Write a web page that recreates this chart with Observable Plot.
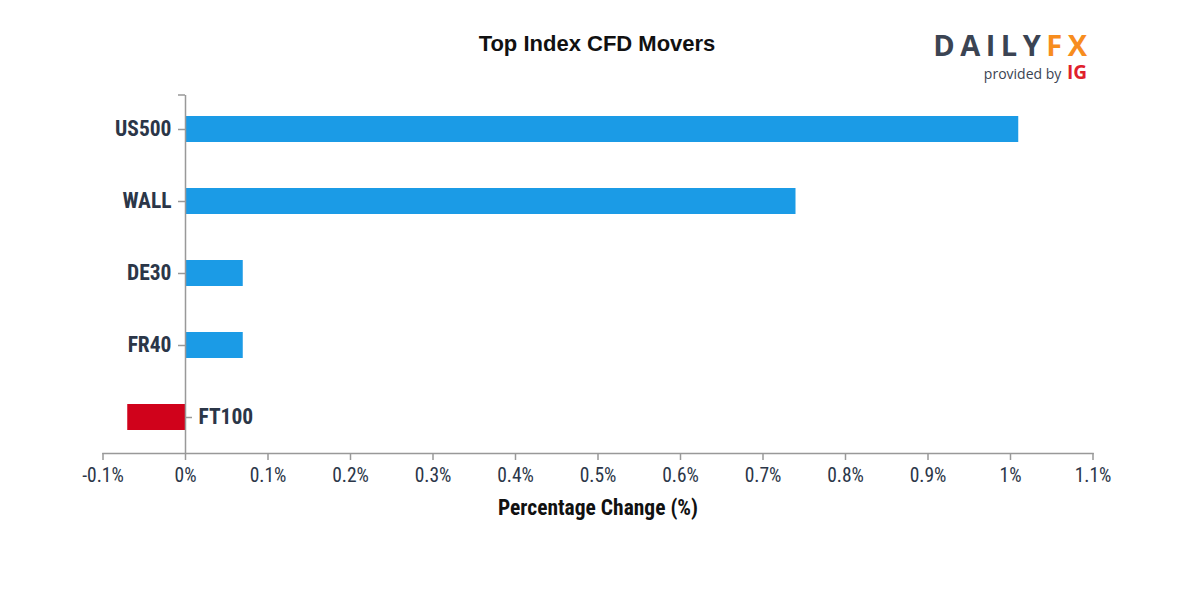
<!DOCTYPE html>
<html>
<head>
<meta charset="utf-8">
<script src="https://cdn.jsdelivr.net/npm/d3@7"></script>
<script src="https://cdn.jsdelivr.net/npm/@observablehq/plot@0.6"></script>
<style>
  html, body { margin: 0; padding: 0; background: #fff; }
  #wrap { position: relative; width: 1200px; height: 600px; overflow: hidden; }
  #wrap svg { position: absolute; left: 0; top: 0; }
  .title { position: absolute; left: 0; width: 1194px; top: 31px; text-align: center;
    font-family: "Liberation Sans", Arial, sans-serif; font-weight: bold; font-size: 22px; line-height: 26px; color: #111; }
  .logo { position: absolute; right: 113px; top: 31px; text-align: right; font-family: "Open Sans", "Noto Sans", sans-serif; }
  .logo .brand { font-size: 29px; font-weight: 700; letter-spacing: 5.5px; line-height: 28px; height: 28px; color: #3b4453; margin-right: -5.5px; }
  .logo .brand span { color: #f78d1e; }
  .logo .by { font-size: 14px; color: #3b4453; line-height: 18px; margin-top: 6px; }
  .logo .by b { color: #e0202c; font-size: 19px; line-height: 14px; font-weight: 700; margin-left: 2px; display: inline-block; vertical-align: baseline; }
</style>
</head>
<body>
<div id="wrap">
  <div class="title">Top Index CFD Movers</div>
  <div class="logo">
    <div class="brand">DAILY<span>FX</span></div>
    <div class="by">provided by <b>IG</b></div>
  </div>
</div>
<script>
const names = ["US500", "WALL", "DE30", "FR40", "FT100"];
const changes = [1.01, 0.74, 0.07, 0.07, -0.07];
const xTicks = [-0.1, 0, 0.1, 0.2, 0.3, 0.4, 0.5, 0.6, 0.7, 0.8, 0.9, 1.0, 1.1];
const xLabel = "Percentage Change (%)";

const data = names.map((name, i) => ({name, value: changes[i]}));
const pos = data.filter(d => d.value >= 0);
const neg = data.filter(d => d.value < 0);

const labelFont = '"Roboto Condensed", "Liberation Sans Narrow", "DejaVu Sans Condensed", Roboto, sans-serif';
const axisColor = "#999";
const textColor = "#2b3648";

// small outer tick at the top end of the zero (y) axis
function topCap(index, scales, values, dims) {
  const g = d3.create("svg:line")
    .attr("x1", scales.x(0) - 7).attr("x2", scales.x(0))
    .attr("y1", dims.marginTop + 2).attr("y2", dims.marginTop + 2)
    .attr("stroke", axisColor).attr("stroke-width", 1.5);
  return g.node();
}

const chart = Plot.plot({
  width: 1200,
  height: 600,
  marginLeft: 102.5,
  marginRight: 107.5,
  marginTop: 93,
  marginBottom: 147,
  style: {fontFamily: labelFont, background: "transparent"},
  x: {domain: [-0.1, 1.1]},
  y: {domain: names, paddingInner: 0.64, paddingOuter: 0.32, axis: null},
  marks: [
    Plot.barX(data, {y: "name", x: "value", fill: d => d.value >= 0 ? "#1b9be6" : "#d0021b"}),
    Plot.frame({anchor: "bottom", stroke: axisColor, strokeWidth: 1.5}),
    Plot.ruleX([0], {stroke: axisColor, strokeWidth: 1.5, insetTop: 2}),
    topCap,
    Plot.axisX({
      ticks: xTicks,
      tickFormat: d => (Math.round(d * 10) / 10) + "%",
      tickSize: 7,
      tickPadding: 8,
      stroke: axisColor,
      strokeWidth: 1.5,
      fill: textColor,
      fontSize: 19.5,
      label: null
    }),
    Plot.ruleY(pos, {y: "name", x1: 0, x2: 0, insetLeft: -7, stroke: axisColor, strokeWidth: 1.5}),
    Plot.ruleY(neg, {y: "name", x1: 0, x2: 0, insetRight: -7, stroke: axisColor, strokeWidth: 1.5}),
    Plot.text(pos, {y: "name", x: 0, text: "name", textAnchor: "end", dx: -14, fontSize: 21.5, fontWeight: "bold", fill: textColor}),
    Plot.text(neg, {y: "name", x: 0, text: "name", textAnchor: "start", dx: 13, fontSize: 21.5, fontWeight: "bold", fill: textColor}),
    Plot.text([xLabel], {frameAnchor: "bottom", text: d => d, dy: 61, fontSize: 21.5, fontWeight: "bold", fill: "#111"})
  ]
});
document.getElementById("wrap").prepend(chart);
</script>
</body>
</html>
